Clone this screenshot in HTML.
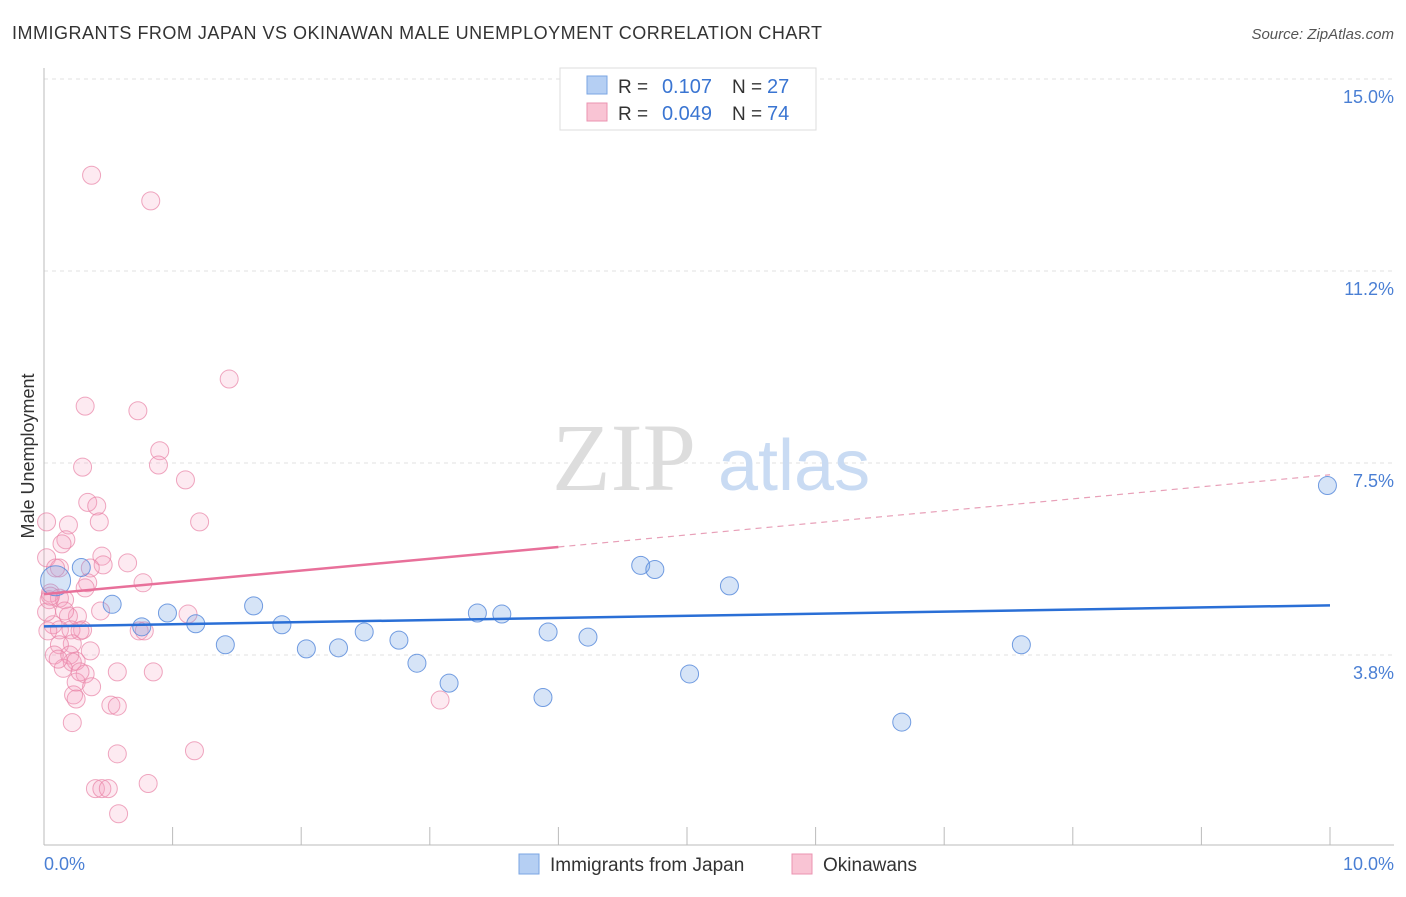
<!DOCTYPE html>
<html><head><meta charset="utf-8"><style>
body{margin:0;background:#fff;font-family:"Liberation Sans",sans-serif;}
</style></head><body>
<svg width="1406" height="892" viewBox="0 0 1406 892" xmlns="http://www.w3.org/2000/svg">
<text x="12" y="39" font-size="18" fill="#333" textLength="810">IMMIGRANTS FROM JAPAN VS OKINAWAN MALE UNEMPLOYMENT CORRELATION CHART</text>
<text x="1394" y="39" font-size="15" fill="#555" font-style="italic" text-anchor="end">Source: ZipAtlas.com</text>
<g id="grid"></g>
<text x="552" y="490" font-size="96" fill="#ddd" font-family="Liberation Serif">ZIP</text>
<text x="718" y="490" font-size="72" fill="#c9dbf3">atlas</text>
<line x1="44" y1="68" x2="44" y2="845" stroke="#bbb"/>
<line x1="44" y1="845" x2="1394" y2="845" stroke="#bbb"/>
<g id="xticks"></g>
<g id="ylabels"></g>
<text x="44" y="870" font-size="18" fill="#4a7fd4">0.0%</text>
<text x="1394" y="870" font-size="18" fill="#4a7fd4" text-anchor="end">10.0%</text>
<text transform="translate(34,456) rotate(-90)" font-size="18" fill="#333" text-anchor="middle">Male Unemployment</text>
<g id="pink"></g>
<g id="blue"></g>
<g id="lines"></g>
<g>
<rect x="560" y="68" width="256" height="62" fill="#fff" stroke="#ddd"/>
<rect x="587" y="76" width="20" height="18" fill="#b5cff3" stroke="#7aa5e3"/>
<rect x="587" y="103" width="20" height="18" fill="#f9c4d4" stroke="#eb93b1"/>
<text x="618" y="93" font-size="19" fill="#333">R =</text>
<text x="712" y="93" font-size="20" fill="#3a75d2" text-anchor="end">0.107</text>
<text x="732" y="93" font-size="19" fill="#333">N =</text>
<text x="767" y="93" font-size="20" fill="#3a75d2">27</text>
<text x="618" y="120" font-size="19" fill="#333">R =</text>
<text x="712" y="120" font-size="20" fill="#3a75d2" text-anchor="end">0.049</text>
<text x="732" y="120" font-size="19" fill="#333">N =</text>
<text x="767" y="120" font-size="20" fill="#3a75d2">74</text>
</g>
<g>
<rect x="519" y="854" width="20" height="20" fill="#b5cff3" stroke="#7aa5e3"/>
<text x="550" y="871" font-size="19" fill="#333">Immigrants from Japan</text>
<rect x="792" y="854" width="20" height="20" fill="#f9c4d4" stroke="#eb93b1"/>
<text x="823" y="871" font-size="19" fill="#333">Okinawans</text>
</g>
</svg>
<script>
const yTicks=[15.0,11.25,7.5,3.75];
const yTickLabels=["15.0%","11.2%","7.5%","3.8%"];
const xTicks=[0,1,2,3,4,5,6,7,8,9,10];
const japanX=[0.09,0.29,0.53,0.76,0.96,1.18,1.41,1.63,1.85,2.04,2.29,2.49,2.76,2.90,3.15,3.37,3.56,3.88,3.92,4.23,4.64,4.75,5.02,5.33,6.67,7.60,9.98];
const japanY=[5.2,5.46,4.74,4.3,4.57,4.36,3.95,4.71,4.34,3.87,3.89,4.2,4.04,3.59,3.2,4.57,4.55,2.92,4.2,4.1,5.5,5.42,3.38,5.1,2.44,3.95,7.06];
const okiX=[0.37,0.83,1.44,0.32,0.73,0.90,0.30,0.89,1.10,0.34,0.41,1.21,0.02,0.43,0.19,0.17,0.14,0.02,0.65,0.45,0.46,0.36,0.12,0.77,0.34,0.32,0.05,0.12,0.04,0.16,0.26,0.19,1.12,0.07,0.30,0.12,0.21,0.74,0.78,0.22,0.12,0.08,0.20,0.25,0.22,0.15,0.32,0.57,0.85,0.25,0.37,0.23,0.25,0.52,0.57,3.08,0.22,0.57,1.17,0.81,0.40,0.45,0.50,0.58,0.02,0.05,0.09,0.44,0.28,0.16,0.03,0.11,0.28,0.36];
const okiY=[13.12,12.62,9.14,8.61,8.52,7.74,7.42,7.46,7.17,6.73,6.66,6.35,6.35,6.35,6.29,6.0,5.92,5.65,5.55,5.68,5.51,5.45,5.45,5.16,5.16,5.06,4.96,4.86,4.83,4.83,4.51,4.51,4.55,4.34,4.24,4.24,4.24,4.22,4.22,3.97,3.95,3.75,3.75,3.63,3.61,3.49,3.38,3.42,3.42,3.22,3.13,2.97,2.89,2.77,2.75,2.87,2.43,1.82,1.88,1.24,1.14,1.14,1.14,0.65,4.59,4.9,5.45,4.61,3.42,4.61,4.22,3.67,4.22,3.83];
const ns="http://www.w3.org/2000/svg";
const X=v=>44+v*128.6, Y=v=>79+(15-v)*51.2;
function mk(t,a,p){const e=document.createElementNS(ns,t);for(const k in a)e.setAttribute(k,a[k]);p.appendChild(e);return e;}
const grid=document.getElementById('grid'),yl=document.getElementById('ylabels'),xt=document.getElementById('xticks');
yTicks.forEach((v,i)=>{
 const l=mk('line',{x1:44,x2:1394,y1:Y(v),y2:Y(v),stroke:'#e2e2e2','stroke-dasharray':'4,4'},grid);
 
 
 const t=mk('text',{x:1394,y:Y(v)+24,'font-size':18,fill:'#4a7fd4','text-anchor':'end'},yl);
 t.textContent=yTickLabels[i];
 
 
});
xTicks.forEach(v=>{
 const l=mk('line',{x1:X(v),x2:X(v),y1:827,y2:845,stroke:'#bbb'},xt);
 
 
});
const pk=document.getElementById('pink');
okiX.forEach((x,i)=>{
 const c=mk('circle',{cx:X(x),cy:Y(okiY[i]),r:9,fill:'rgba(244,160,190,0.22)',stroke:'rgba(232,130,165,0.7)','stroke-width':1},pk);
 
 
});
const bl=document.getElementById('blue');
japanX.forEach((x,i)=>{
 const c=mk('circle',{cx:X(x),cy:Y(japanY[i]),r:i==0?15:9,fill:'rgba(120,165,230,0.3)',stroke:'rgba(90,140,220,0.85)','stroke-width':1},bl);
 
 
});
const ln=document.getElementById('lines');
const b=mk('line',{x1:X(0),y1:Y(4.31),x2:X(10),y2:Y(4.72),stroke:'#2a6fd6','stroke-width':2.5},ln);


const p=mk('line',{x1:X(0),y1:Y(4.94),x2:X(4),y2:Y(5.86),stroke:'#e8709a','stroke-width':2.5},ln);


const pd=mk('line',{x1:X(4),y1:Y(5.86),x2:X(10),y2:Y(7.27),stroke:'#e8a0b8','stroke-width':1.2,'stroke-dasharray':'6,5'},ln);


</script>
</body></html>
